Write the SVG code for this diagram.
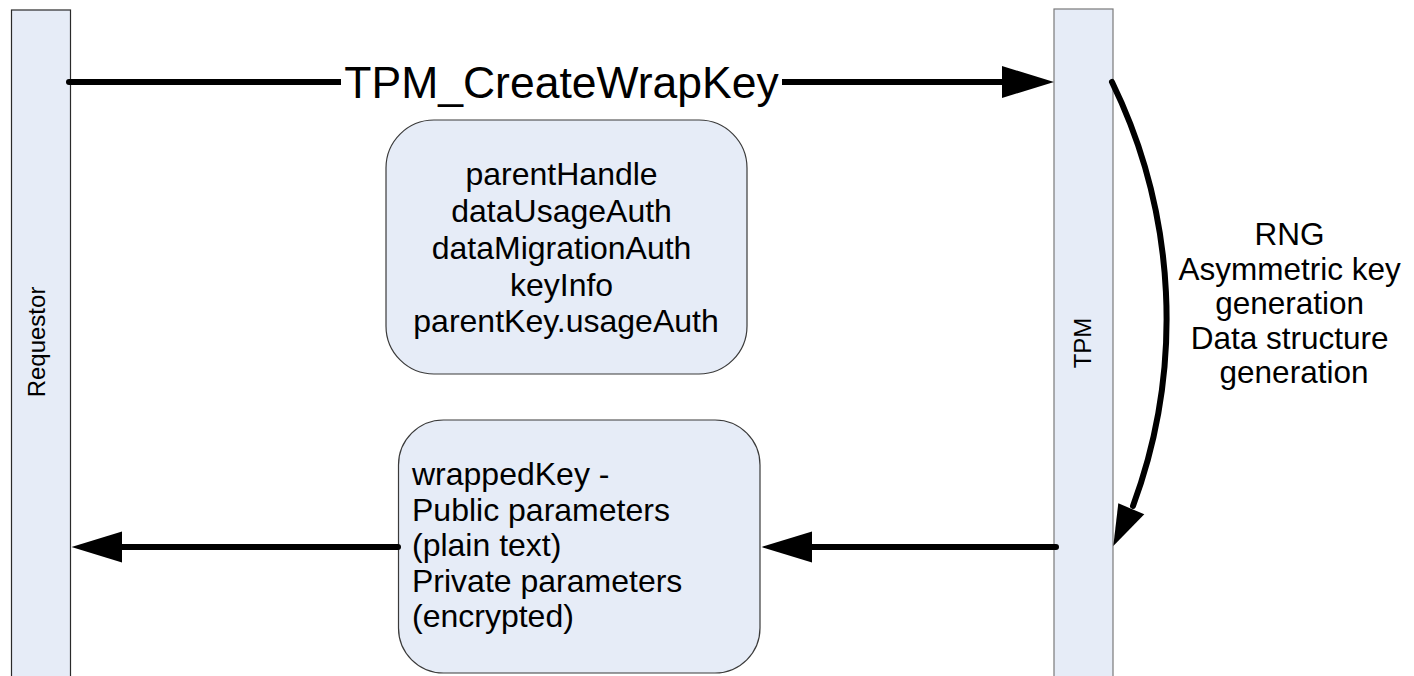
<svg xmlns="http://www.w3.org/2000/svg" width="1414" height="676" viewBox="0 0 1414 676">
  <style>
    .bar { fill: #e6ecf7; stroke-width: 1.2; }
    .box { fill: #e6ecf7; stroke: #3a3a3a; stroke-width: 1.2; }
    .lbl { font-family: "Liberation Sans", Arial, sans-serif; fill: #000; }
    .wire { fill: none; stroke: #000; stroke-width: 6; stroke-linecap: round; }
    .head { fill: #000; stroke: none; }
  </style>
  <rect x="0" y="0" width="1414" height="676" fill="#fff"/>

  <!-- lifelines -->
  <g id="requestor">
    <rect class="bar" x="11.5" y="10" width="59" height="680" stroke="#2a2a2a"/>
    <text class="lbl" font-size="24" text-anchor="middle" transform="translate(45,342) rotate(-90)">Requestor</text>
  </g>
  <g id="tpm">
    <rect class="bar" x="1054" y="9" width="59" height="680" stroke="#7a7a7a" stroke-width="2"/>
    <text class="lbl" font-size="24" text-anchor="middle" transform="translate(1091,343) rotate(-90)">TPM</text>
  </g>

  <!-- message parameter boxes -->
  <g id="request-params">
    <rect class="box" x="386" y="120" width="361" height="254" rx="48" ry="48"/>
    <text class="lbl" font-size="32" text-anchor="middle">
      <tspan x="566" y="185">parentHandle</tspan>
      <tspan x="566" y="222">dataUsageAuth</tspan>
      <tspan x="566" y="259">dataMigrationAuth</tspan>
      <tspan x="566" y="295.5">keyInfo</tspan>
      <tspan x="566" y="332">parentKey.usageAuth</tspan>
    </text>
  </g>
  <g id="response-params">
    <rect class="box" x="398.5" y="420" width="361.5" height="253" rx="45" ry="45"/>
    <text class="lbl" font-size="32">
      <tspan x="412" y="485">wrappedKey -</tspan>
      <tspan x="412" y="520.5">Public parameters</tspan>
      <tspan x="412" y="556">(plain text)</tspan>
      <tspan x="412" y="591.5">Private parameters</tspan>
      <tspan x="412" y="627">(encrypted)</tspan>
    </text>
  </g>

  <!-- internal TPM processing note -->
  <g id="tpm-steps">
    <text class="lbl" font-size="31.5" text-anchor="middle">
      <tspan x="1294" y="245">RNG</tspan>
      <tspan x="1294" y="279.5">Asymmetric key</tspan>
      <tspan x="1294" y="314">generation</tspan>
      <tspan x="1294" y="348.5">Data structure</tspan>
      <tspan x="1294" y="383">generation</tspan>
    </text>
  </g>

  <!-- connectors -->
  <g id="connectors">
    <!-- TPM_CreateWrapKey request -->
    <line class="wire" x1="69" y1="82" x2="1004" y2="82"/>
    <polygon class="head" points="1054,82 1002,66 1002,98"/>
    <rect x="341" y="60" width="441" height="46" fill="#fff"/>
    <text class="lbl" font-size="44.5" text-anchor="middle" x="561.5" y="98">TPM_CreateWrapKey</text>

    <!-- internal processing loop -->
    <path class="wire" d="M1112,82 A540,540 0 0 1 1133,506"/>
    <polygon class="head" points="1113.3,546 1118.3,503.3 1144.3,514.3"/>

    <!-- response: TPM to parameter box -->
    <line class="wire" x1="1056" y1="547" x2="810" y2="547"/>
    <polygon class="head" points="761.5,547 812,531.5 812,562.5"/>

    <!-- response: parameter box to requestor -->
    <line class="wire" x1="398" y1="547" x2="120" y2="547" stroke-linecap="butt"/>
    <polygon class="head" points="71.5,547 122,531.5 122,562.5"/>
  </g>
</svg>
